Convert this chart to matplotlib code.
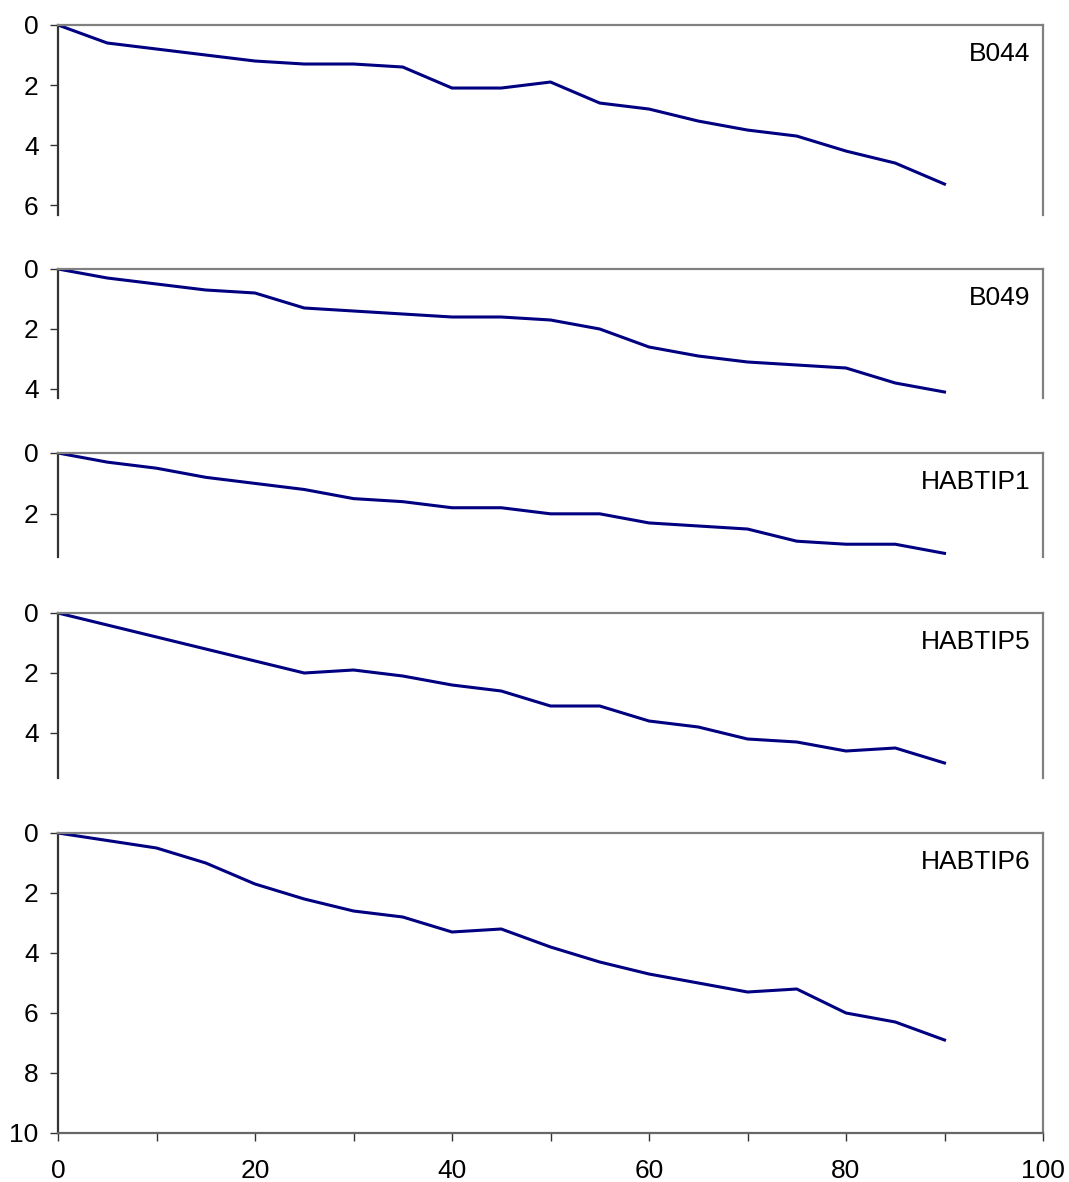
import matplotlib
matplotlib.use("Agg")
import matplotlib.pyplot as plt
from matplotlib.ticker import MultipleLocator

plt.rcParams['font.family'] = ['Liberation Sans', 'DejaVu Sans']

# depth readings every 5 units
x = [0, 5, 10, 15, 20, 25, 30, 35, 40, 45, 50, 55, 60, 65, 70, 75, 80, 85, 90]

b044 = [0, 0.6, 0.8, 1.0, 1.2, 1.3, 1.3, 1.4, 2.1, 2.1, 1.9, 2.6, 2.8, 3.2, 3.5, 3.7, 4.2, 4.6, 5.3]
b049 = [0, 0.3, 0.5, 0.7, 0.8, 1.3, 1.4, 1.5, 1.6, 1.6, 1.7, 2.0, 2.6, 2.9, 3.1, 3.2, 3.3, 3.8, 4.1]
habtip1 = [0, 0.3, 0.5, 0.8, 1.0, 1.2, 1.5, 1.6, 1.8, 1.8, 2.0, 2.0, 2.3, 2.4, 2.5, 2.9, 3.0, 3.0, 3.3]
habtip5 = [0, 0.4, 0.8, 1.2, 1.6, 2.0, 1.9, 2.1, 2.4, 2.6, 3.1, 3.1, 3.6, 3.8, 4.2, 4.3, 4.6, 4.5, 5.0]
habtip6 = [0, 0.25, 0.5, 1.0, 1.7, 2.2, 2.6, 2.8, 3.3, 3.2, 3.8, 4.3, 4.7, 5.0, 5.3, 5.2, 6.0, 6.3, 6.9]

names = ['B044', 'B049', 'HABTIP1', 'HABTIP5', 'HABTIP6']
series = [b044, b049, habtip1, habtip5, habtip6]
y_max = [6.33, 4.3, 3.42, 5.5, 10]
y_ticks = [[0, 2, 4, 6], [0, 2, 4], [0, 2], [0, 2, 4], [0, 2, 4, 6, 8, 10]]

# panel pixel boxes (top, bottom)
W, H = 1069, 1182
boxes = [(25, 215), (269, 398), (453, 557), (613, 778), (833, 1133)]
left, right = 58, 1043

fig = plt.figure(figsize=(W / 100, H / 100), dpi=100)

for i in range(5):
    top, bot = boxes[i]
    ax = fig.add_axes([left / W, 1 - bot / H, (right - left) / W, (bot - top) / H])
    ax.plot(x, series[i], color='#000080', lw=2.2)
    ax.set_xlim(0, 100)
    ax.set_ylim(y_max[i], 0)
    ax.set_yticks(y_ticks[i])
    ax.tick_params(axis='y', direction='out', length=6, width=1, color='#333333',
                   labelsize=19, pad=8)
    ax.spines['top'].set_color('#808080')
    ax.spines['right'].set_color('#808080')
    ax.spines['top'].set_linewidth(1.6)
    ax.spines['right'].set_linewidth(1.6)
    ax.spines['left'].set_color('#333333')
    ax.spines['left'].set_linewidth(1.6)
    ax.annotate(names[i], xy=(1, 1), xycoords='axes fraction',
                xytext=(-9, -21), textcoords='offset points',
                ha='right', va='center', fontsize=19)
    if i < 4:
        ax.spines['bottom'].set_visible(False)
        ax.set_xticks([])
    else:
        ax.spines['bottom'].set_color('#666666')
        ax.spines['bottom'].set_linewidth(1.6)
        ax.xaxis.set_major_locator(MultipleLocator(20))
        ax.xaxis.set_minor_locator(MultipleLocator(10))
        ax.tick_params(axis='x', which='both', direction='out', length=6, width=1,
                       color='#333333', labelsize=19, pad=13)

fig.savefig('out.png', dpi=100)
